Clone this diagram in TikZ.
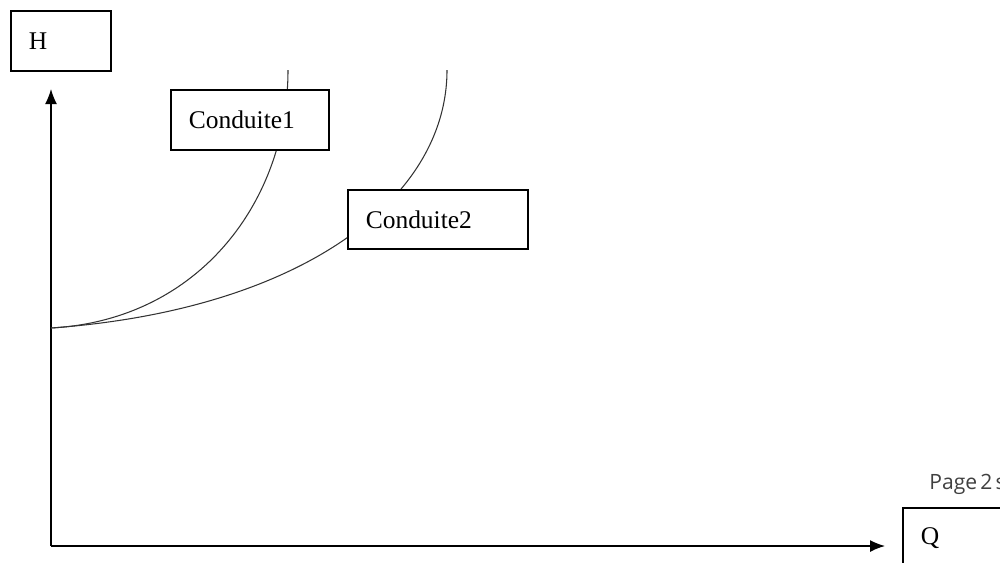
\documentclass[tikz,border=0pt]{standalone}
\usepackage{fontspec}
\setmainfont{Liberation Serif}
\newfontfamily\pagefont{Open Sans}
\usetikzlibrary{arrows.meta}

\begin{document}
\begin{tikzpicture}
	[x=0.02cm, y=-0.02cm,
	 labelbox/.style={rectangle, draw, line width=0.9pt, fill=white, anchor=north west,
		inner xsep=0.36cm, inner ysep=0pt, align=left, minimum height=1.2cm,
		font=\fontsize{14.5}{16}\selectfont},
	 axis/.style={line width=0.8pt, -{Latex[length=0.3cm, width=0.24cm]}},
	 curve/.style={line width=0.6pt, black!80}]
	\clip (0,0) rectangle (1000,562);
	% axes
	\coordinate (O) at (51,546);
	\coordinate (Htip) at (51,89);
	\coordinate (Qtip) at (885,546);
	\draw[axis] (O) -- (Htip);
	\draw[axis] (O) -- (Qtip);
	% characteristic curves
	\coordinate (S) at (51,328);
	\coordinate (C1) at (288,70);
	\coordinate (C2) at (447,70);
	\draw[curve] (S) .. controls (200,320) and (288,200) .. (C1);
	\draw[curve] (S) .. controls (300,310) and (447,200) .. (C2);
	% labels
	\node[labelbox, text width=1.28cm] (H) at (10,10) {H};
	\node[labelbox, text width=2.44cm] (cond1) at (170,89) {Conduite1};
	\node[labelbox, text width=2.88cm, minimum height=1.18cm] (cond2) at (347,189) {Conduite2};
	\node[labelbox, text width=1.8cm] (Q) at (902,507) {Q};
	\node[anchor=base west, inner sep=0pt, text=black!75, font=\pagefont\fontsize{12}{14}\selectfont] (page) at (929,489) {\spaceskip=0.15em Page 2 s};
\end{tikzpicture}
\end{document}
